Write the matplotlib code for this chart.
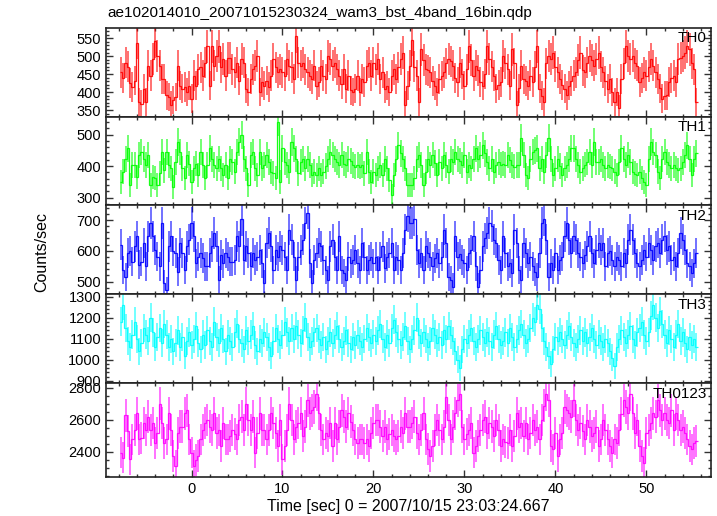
import numpy as np
import matplotlib
matplotlib.use("Agg")
import matplotlib.pyplot as plt
from matplotlib.ticker import MultipleLocator

plt.rcParams['font.family'] = ['Liberation Sans', 'DejaVu Sans']

title = "ae102014010_20071015230324_wam3_bst_4band_16bin.qdp"
xlabel = "Time [sec] 0 = 2007/10/15 23:03:24.667"
ylabel = "Counts/sec"
panel_names = ["TH0", "TH1", "TH2", "TH3", "TH0123"]
colors = ["#ff0000", "#00ff00", "#0000ff", "#00ffff", "#ff00ff"]
t_start = -7.875
bin_width = 0.25

th0 = [
    455, 440, 482, 470, 425, 414, 432, 537, 373, 368, 409, 373, 473, 446, 491, 542,
    501, 473, 437, 437, 391, 387, 364, 377, 387, 473, 418, 409, 414, 400, 418, 382,
    446, 418, 464, 469, 446, 482, 528, 418, 528, 473, 501, 528, 469, 491, 446, 494,
    494, 464, 455, 482, 432, 491, 482, 409, 400, 437, 464, 473, 501, 400, 428, 418,
    432, 414, 446, 491, 469, 455, 464, 455, 446, 491, 473, 469, 437, 555, 482, 473,
    482, 464, 455, 446, 437, 473, 418, 428, 473, 446, 437, 501, 491, 473, 482, 464,
    446, 423, 464, 409, 446, 405, 400, 409, 446, 400, 437, 428, 473, 482, 446, 482,
    464, 491, 437, 455, 409, 418, 400, 446, 464, 437, 469, 491, 510, 364, 418, 473,
    546, 470, 446, 373, 519, 490, 464, 460, 455, 430, 418, 400, 437, 445, 455, 480,
    492, 485, 473, 440, 428, 482, 450, 418, 464, 528, 490, 446, 473, 460, 428, 418,
    450, 528, 492, 470, 446, 409, 420, 428, 501, 480, 464, 418, 519, 480, 364, 410,
    473, 437, 430, 418, 446, 428, 470, 528, 409, 390, 373, 480, 501, 492, 510, 470,
    455, 437, 420, 409, 391, 418, 430, 446, 455, 490, 510, 460, 455, 482, 501, 490,
    473, 492, 510, 470, 455, 430, 409, 437, 400, 373, 400, 355, 437, 480, 528, 500,
    492, 501, 480, 473, 428, 440, 455, 446, 470, 492, 473, 455, 437, 410, 382, 390,
    391, 428, 440, 446, 428, 492, 495, 501, 510, 528, 519, 480, 464, 373,
]

th1 = [
    350, 382, 424, 456, 340, 403, 403, 366, 435, 445,
    424, 403, 435, 340, 366, 361, 340, 377, 445, 387,
    445, 403, 393, 334, 414, 477, 445, 393, 361, 435,
    408, 350, 393, 408, 371, 445, 403, 361, 403, 456,
    424, 403, 393, 424, 393, 371, 403, 361, 424, 414,
    382, 445, 477, 498, 424, 393, 340, 435, 445, 393,
    371, 445, 393, 403, 435, 414, 382, 377, 361, 541,
    350, 456, 414, 403, 382, 477, 456, 424, 377, 414,
    424, 393, 424, 403, 371, 382, 371, 393, 371, 382, 400,
    424, 445, 435, 424, 414, 403, 435, 408, 403, 424, 415,
    403, 398, 403, 398, 403, 377, 445, 382, 350, 382, 372,
    393, 403, 371, 424, 393, 356, 308, 371, 424, 466, 440,
    424, 393, 340, 340,
    340, 361, 424, 435, 403, 340, 382, 424, 403, 435, 410,
    371, 414, 393, 435, 403, 382, 424, 414, 445, 424, 415,
    403, 435, 382, 403, 393, 424, 456, 424, 435, 466, 440,
    414, 393, 424, 382, 403, 414, 403, 408, 403, 435, 420,
    403, 398, 403, 403, 488, 435, 371, 361, 424, 445, 450,
    456, 393, 424, 382, 435, 488, 424, 371, 393, 424, 400,
    371, 393, 403, 424, 456, 456, 424, 403, 382, 393, 405,
    414, 445, 403, 477, 414, 414, 424, 403, 393, 403, 398,
    393, 382, 371, 414, 456, 424, 403, 435, 414, 382, 376,
    371, 382, 361, 350, 340, 424, 477, 445, 435, 382,
    361, 424, 445, 414, 403, 393, 403, 393, 387, 393,
    414, 435, 466, 424, 371, 424, 440,
]

th2 = [
    620, 538, 516, 592, 598, 565, 614, 647, 554, 565,
    625, 549, 647, 691, 647, 603, 581, 549, 691, 494,
    472, 614, 647, 598, 592, 532, 625, 592, 538, 614,
    636, 691, 647, 560, 581, 592, 576, 549, 549, 592,
    614, 658, 614, 505, 587, 560, 592, 581, 565, 565,
    570, 647, 614, 702, 570, 614, 592, 549, 592, 570,
    581, 603, 560, 494, 625, 658, 614, 538, 603, 581,
    614, 603, 581, 538, 669, 636, 581, 505, 581, 603,
    636, 691, 724, 560, 494, 570, 592, 625, 614, 570,
    538, 505, 614, 636, 581, 538, 647, 538, 527, 505,
    581, 560, 570, 603, 560, 538, 625, 581, 538, 570,
    581, 560, 581, 538, 581, 614, 543, 581, 592, 625,
    538, 581, 570, 538, 592, 669, 713, 690,
    691, 702, 603, 560, 592, 538, 614, 592, 581, 549, 575,
    592, 560, 581, 669, 625, 516, 505, 483, 647, 581, 590,
    570, 560, 538, 592, 603, 647, 549, 483, 538, 614, 640,
    658, 691, 680, 636, 625, 570, 538, 647, 592, 549, 560,
    527, 669, 625, 538, 505, 625, 592, 560, 581, 549, 530,
    516, 592, 691, 702, 636, 516, 560, 538, 592, 538, 570,
    581, 647, 691, 636, 592, 647, 636, 592, 581, 560, 585,
    614, 647, 592, 560, 603, 625, 603, 625, 549, 592, 600,
    570, 549, 581, 570, 549, 592, 560, 636, 669, 636,
    592, 560, 549, 570, 603, 581, 625, 603, 570, 614,
    625, 592, 636, 647, 603, 614, 570, 581, 549, 592,
    658, 636, 603, 560, 549, 527, 560, 592,
]

th3 = [
    1180, 1260, 1150, 1090, 1060, 1120, 1180, 1100, 1040, 1080, 1150, 1120, 1090, 1200, 1130, 1060,
    1110, 1150, 1080, 1170, 1120, 1060, 1100, 1040, 1080, 1140, 1060, 1110, 1020, 1090, 1130, 1070,
    1100, 1160, 1080, 1050, 1120, 1070, 1140, 1090, 1060, 1180, 1110, 1080, 1150, 1100, 1040, 1120,
    1090, 1060, 1130, 1170, 1100, 1080, 1050, 1140, 1090, 1120, 1160, 1070, 1040, 1100, 1080, 1130,
    1110, 1060, 1020, 1090, 1150, 1100, 1070, 1120, 1180, 1130, 1090, 1150, 1100, 1160, 1120, 1080,
    1140, 1200, 1110, 1060, 1090, 1130, 1150, 1100, 1070, 1110, 1050, 1090, 1130, 1080, 1120, 1160,
    1100, 1060, 1090, 1140, 1080, 1050, 1110, 1070, 1120, 1090, 1060, 1100, 1150, 1110, 1080, 1120,
    1090, 1140, 1170, 1100, 1060, 1120, 1080, 1150, 1190, 1130, 1100, 1070, 1110, 1160, 1090, 1050,
    1100, 1140, 1200, 1120, 1080, 1130, 1100, 1060, 1090, 1150, 1120, 1080, 1110, 1070, 1140, 1100,
    1160, 1120, 1090, 1040, 1000, 960, 1050, 1100, 1080, 1120, 1150, 1090, 1060, 1100, 1140, 1110,
    1080, 1130, 1090, 1060, 1120, 1160, 1100, 1070, 1090, 1130, 1080, 1150, 1110, 1060, 1100, 1140,
    1170, 1120, 1080, 1100, 1150, 1200, 1180, 1260, 1240, 1150, 1090, 1060, 1020, 980, 1050, 1110,
    1090, 1130, 1100, 1070, 1120, 1160, 1110, 1080, 1060, 1100, 1140, 1090, 1130, 1080, 1110, 1150,
    1100, 1070, 1120, 1090, 1060, 1100, 1080, 1040, 1010, 970, 1060, 1100, 1140, 1110, 1080, 1120,
    1160, 1100, 1070, 1130, 1150, 1180, 1120, 1090, 1130, 1210, 1260, 1200, 1150, 1230, 1170, 1120,
    1080, 1140, 1100, 1060, 1120, 1170, 1090, 1130, 1080, 1050, 1110, 1070, 1100, 1060,
]

th0123 = [
    2396, 2365, 2630, 2530, 2355, 2478, 2539, 2641, 2478, 2488, 2580, 2539, 2620, 2539, 2580, 2457, 2520,
    2702, 2580, 2457, 2478, 2641, 2539, 2375, 2314, 2518, 2559, 2559, 2641, 2661, 2478, 2396, 2314, 2350,
    2375, 2478, 2539, 2580, 2600, 2559, 2539, 2641, 2518, 2539, 2437, 2580, 2478, 2478, 2498, 2539, 2510,
    2478, 2600, 2620, 2539, 2702, 2600, 2539, 2620, 2396, 2518, 2641, 2539, 2539, 2478, 2539, 2641, 2580,
    2518, 2437, 2600, 2355, 2437, 2539, 2702, 2600, 2478, 2559, 2580, 2641, 2498, 2559, 2722, 2641, 2660,
    2681, 2763, 2641, 2539, 2478, 2518, 2498, 2580, 2437, 2580, 2478, 2559, 2661, 2620, 2559, 2641, 2590,
    2539, 2478, 2457, 2478, 2478, 2457, 2478, 2437, 2518, 2580, 2600, 2600, 2559, 2498, 2559, 2478, 2510,
    2539, 2498, 2478, 2498, 2559, 2518, 2641, 2559, 2559, 2580, 2620, 2518, 2478, 2539, 2641, 2478, 2420,
    2375, 2437, 2539, 2600, 2539, 2478, 2559, 2743, 2600, 2478, 2559, 2641, 2722, 2763, 2559, 2478, 2510,
    2539, 2580, 2396, 2437, 2498, 2539, 2600, 2620, 2518, 2580, 2559, 2498, 2600, 2539, 2437, 2478, 2460,
    2457, 2539, 2437, 2498, 2641, 2559, 2580, 2498, 2580, 2478, 2518, 2600, 2539, 2559, 2478, 2600, 2690,
    2763, 2722, 2437, 2416, 2518, 2375, 2478, 2518, 2681, 2661, 2641, 2620, 2722, 2600, 2539, 2580, 2530,
    2478, 2600, 2559, 2498, 2518, 2559, 2437, 2478, 2600, 2539, 2478, 2437, 2396, 2478, 2457, 2539, 2640,
    2722, 2681, 2641, 2763, 2641, 2518, 2600, 2437, 2375, 2334, 2518, 2539, 2580, 2641, 2620, 2722, 2660,
    2600, 2641, 2600, 2580, 2661, 2539, 2641, 2600, 2539, 2559, 2518, 2478, 2437, 2416, 2457, 2470,
]

series = [th0, th1, th2, th3, th0123]
ylims = [(332, 579), (276, 557), (459, 748), (890, 1312), (2244, 2831)]
ymajor = [50, 100, 100, 100, 200]
yminor = [10, 20, 20, 20, 50]
xlim = (-9.4, 57.1)

W, H = 717, 516
fig = plt.figure(figsize=(W / 100, H / 100), dpi=100)
borders = [27.7, 116.5, 205.3, 294.1, 382.9, 477.0]
left_px, right_px = 106, 711

for i in range(5):
    top, bot = borders[i], borders[i + 1]
    ax = fig.add_axes([left_px / W, 1 - bot / H, (right_px - left_px) / W, (bot - top) / H])
    vals = np.asarray(series[i], dtype=float)
    edges = t_start + bin_width * np.arange(len(vals) + 1)
    centers = 0.5 * (edges[:-1] + edges[1:])
    err = np.sqrt(vals / bin_width)
    ax.errorbar(centers, vals, yerr=err, fmt='none', ecolor=colors[i],
                elinewidth=1.3, alpha=0.6, capsize=0)
    ax.stairs(vals, edges, baseline=None, color=colors[i], lw=0.9, alpha=0.9)
    ax.set_xlim(*xlim)
    ax.set_ylim(*ylims[i])
    ax.xaxis.set_major_locator(MultipleLocator(10))
    ax.xaxis.set_minor_locator(MultipleLocator(2))
    ax.yaxis.set_major_locator(MultipleLocator(ymajor[i]))
    ax.yaxis.set_minor_locator(MultipleLocator(yminor[i]))
    ax.tick_params(which='both', direction='in', top=True, right=True, labelsize=10.5,
                   color='#333333', width=1.0)
    ax.tick_params(which='major', length=5)
    ax.tick_params(which='minor', length=2.5)
    for sp in ax.spines.values():
        sp.set_linewidth(1.2)
        sp.set_color('#222222')
    if i < 4:
        ax.tick_params(labelbottom=False)
    ax.text(0.993, 0.88, panel_names[i], transform=ax.transAxes, ha='right', va='center',
            fontsize=11)

fig.text(left_px / W + 0.002, 1 - 13 / H, title, ha='left', va='center', fontsize=11)
fig.text((left_px + right_px) / 2 / W, 1 - 507 / H, xlabel, ha='center', va='center', fontsize=11.5)
fig.text(42 / W, 1 - 252 / H, ylabel, ha='center', va='center', rotation=90, fontsize=11.5)

fig.savefig("out.png", dpi=100)
